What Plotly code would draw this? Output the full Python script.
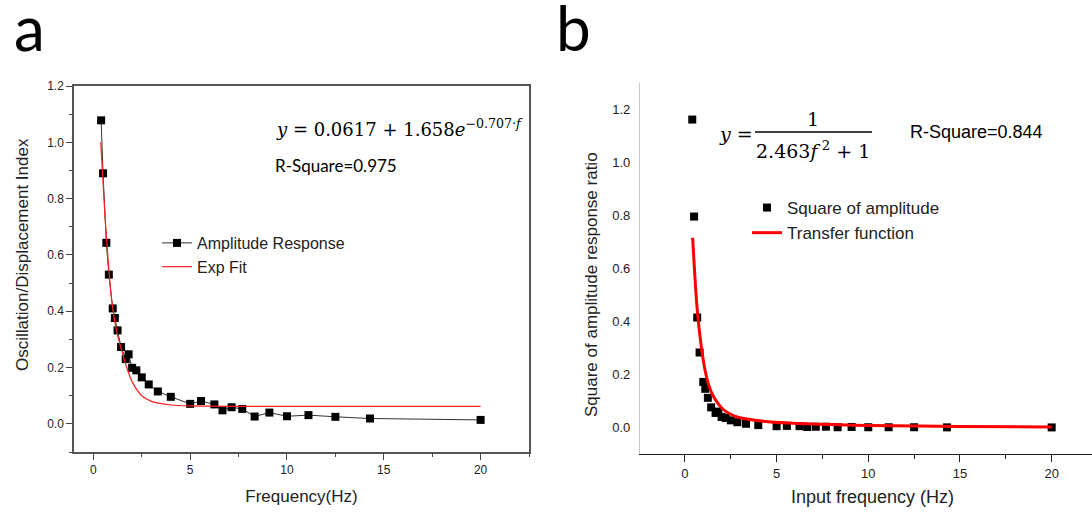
import plotly.graph_objects as go

W, H = 1092, 516

# ---------------- data ----------------
freq_a = [0.4, 0.5, 0.67, 0.8, 1.0, 1.11, 1.25, 1.43, 1.67, 1.82, 2.0, 2.22, 2.5, 2.86,
          3.33, 4.0, 5.0, 5.56, 6.25, 6.67, 7.14, 7.69, 8.33, 9.09, 10.0, 11.11, 12.5, 14.29, 20.0]
amp_a = [1.078, 0.89, 0.643, 0.53, 0.41, 0.376, 0.332, 0.273, 0.23, 0.247, 0.199, 0.19, 0.165, 0.14,
         0.115, 0.096, 0.071, 0.081, 0.069, 0.048, 0.059, 0.053, 0.026, 0.040, 0.027, 0.031, 0.025, 0.019, 0.014]

fit_x_a = [0.38, 0.5, 0.6, 0.7, 0.8, 0.9, 1.0, 1.2, 1.4, 1.7, 2.0, 2.5, 3.0, 3.5, 4.0, 5.0, 6.0, 8.0, 10.0, 15.0, 20.0]
fit_y_a = [1.00, 0.86, 0.74, 0.64, 0.55, 0.47, 0.41, 0.33, 0.275, 0.205, 0.15, 0.10, 0.08, 0.072, 0.067,
           0.064, 0.063, 0.062, 0.062, 0.062, 0.062]

freq_b = freq_a
sq_b = [1.162, 0.796, 0.415, 0.283, 0.172, 0.146, 0.112, 0.076, 0.055, 0.060, 0.040, 0.036, 0.027, 0.020,
        0.014, 0.009, 0.005, 0.006, 0.005, 0.002, 0.003, 0.003, 0.001, 0.002, 0.001, 0.001, 0.001, 0.0005, 0.0003]

fit_x_b = [0.42, 0.5, 0.64, 0.82, 1.09, 1.3, 1.55, 2.09, 2.5, 3.0, 4.27, 5.7, 8.0, 10.0, 15.0, 20.0]
fit_y_b = [0.716, 0.62, 0.47, 0.345, 0.219, 0.16, 0.118, 0.068, 0.05, 0.037, 0.024, 0.017, 0.011, 0.008, 0.004, 0.002]

x_ticks = [0, 5, 10, 15, 20]
y_ticks = [0.0, 0.2, 0.4, 0.6, 0.8, 1.0, 1.2]


def px(x):
    return x / W


def py(y):
    return 1 - y / H


SANS = "Liberation Sans, Arial, sans-serif"
SERIF = "DejaVu Serif, Liberation Serif, serif"
CAL = "Lato, Open Sans, sans-serif"

fig = go.Figure()

# panel a
fig.add_trace(go.Scatter(x=freq_a, y=amp_a, mode="lines+markers", name="Amplitude Response",
                         line=dict(color="#333333", width=1),
                         marker=dict(symbol="square", size=8, color="black"),
                         xaxis="x", yaxis="y", legend="legend"))
fig.add_trace(go.Scatter(x=fit_x_a, y=fit_y_a, mode="lines", name="Exp Fit",
                         line=dict(color="#ff2020", width=1.2, shape="spline", smoothing=0.8),
                         xaxis="x", yaxis="y", legend="legend"))

# panel b
fig.add_trace(go.Scatter(x=freq_b, y=sq_b, mode="markers", name="Square of amplitude",
                         marker=dict(symbol="square", size=8, color="black"),
                         xaxis="x2", yaxis="y2", legend="legend2"))
fig.add_trace(go.Scatter(x=fit_x_b, y=fit_y_b, mode="lines", name="Transfer function",
                         line=dict(color="#ff0000", width=3, shape="spline", smoothing=0.8),
                         xaxis="x2", yaxis="y2", legend="legend2"))

axis_common = dict(showgrid=False, zeroline=False, ticks="outside", automargin=False,
                   tickfont=dict(family=SANS, size=12, color="#222"))

fig.update_layout(
    width=W, height=H,
    margin=dict(l=0, r=0, t=0, b=0, autoexpand=False),
    paper_bgcolor="white", plot_bgcolor="white",
    xaxis=dict(domain=[px(74), px(529)], range=[-1.0, 22.5], anchor="y",
               tickvals=x_ticks, ticklen=6, tickcolor="#444",
               minor=dict(dtick=2.5, tick0=0, ticklen=3, tickcolor="#444", ticks="outside"),
               showline=True, linecolor="#555", linewidth=1.5, mirror=True,
               title=dict(text="Frequency(Hz)", font=dict(family=SANS, size=17, color="#222"), standoff=14),
               **axis_common),
    yaxis=dict(domain=[py(452), py(86)], range=[-0.1, 1.2], anchor="x",
               tickvals=y_ticks, tickformat=".1f", ticklen=6, tickcolor="#444",
               minor=dict(dtick=0.1, tick0=0, ticklen=3, tickcolor="#444", ticks="outside"),
               showline=True, linecolor="#555", linewidth=1.5, mirror=True,
               **axis_common),
    xaxis2=dict(domain=[px(640), 1.0], range=[-2.45, 22.2], anchor="y2",
                tickvals=x_ticks, ticklen=7, tickcolor="#222",
                minor=dict(dtick=2.5, tick0=0, ticklen=4, tickcolor="#222", ticks="outside"),
                showline=True, linecolor="#222", linewidth=1.2,
                showgrid=False, zeroline=False, ticks="outside", automargin=False,
                tickfont=dict(family=SANS, size=13, color="#222")),
    yaxis2=dict(domain=[py(454), py(83)], range=[-0.1, 1.3], anchor="x2",
                tickvals=y_ticks, tickformat=".1f",
                showline=True, linecolor="#c8c8c8", linewidth=1.2,
                showgrid=False, zeroline=False, ticks="", automargin=False,
                ticklabelstandoff=6,
                tickfont=dict(family=SANS, size=13, color="#222")),
    legend=dict(x=px(157), y=py(226), xanchor="left", yanchor="top",
                bgcolor="rgba(0,0,0,0)", font=dict(family=SANS, size=16, color="#222"),
                tracegroupgap=0),
    legend2=dict(x=px(747), y=py(190), xanchor="left", yanchor="top",
                 bgcolor="rgba(0,0,0,0)", font=dict(family=SANS, size=17, color="#222"),
                 tracegroupgap=0),
)

annotations = [
    dict(text="a", x=px(29), y=py(-12), yanchor="top", font=dict(family=CAL, size=62, color="black")),
    dict(text="b", x=px(573), y=py(-12), yanchor="top", font=dict(family=CAL, size=62, color="black")),
    dict(text="<i>y</i> = 0.0617 + 1.658<i>e</i><sup>−0.707·<i>f</i></sup>", x=px(274), y=py(128),
         xanchor="left", font=dict(family=SERIF, size=18, color="black")),
    dict(text="R-Square=0.975", x=px(273), y=py(165), xanchor="left",
         font=dict(family=CAL, size=17, color="black")),
    dict(text="<i>y</i> =", x=px(736), y=py(134), font=dict(family=SERIF, size=19, color="black")),
    dict(text="1", x=px(813), y=py(119), font=dict(family=SERIF, size=19, color="black")),
    dict(text="2.463<i>f</i><sup> 2</sup> + 1", x=px(813), y=py(150), font=dict(family=SERIF, size=19, color="black")),
    dict(text="R-Square=0.844", x=px(908), y=py(132), xanchor="left",
         font=dict(family=SANS, size=18, color="black")),
    dict(text="Oscillation/Displacement Index", x=px(22), y=py(255), textangle=-90,
         font=dict(family=SANS, size=17, color="#222")),
    dict(text="Square of amplitude response ratio", x=px(591), y=py(285), textangle=-90,
         font=dict(family=SANS, size=17, color="#222")),
    dict(text="Input frequency (Hz)", x=px(872), y=py(497),
         font=dict(family=SANS, size=18, color="#222")),
]
for a in annotations:
    a.update(xref="paper", yref="paper", showarrow=False)
    a.setdefault("xanchor", "center")
    a.setdefault("yanchor", "middle")
fig.update_layout(annotations=annotations)

fig.add_shape(type="line", xref="paper", yref="paper", x0=px(755), x1=px(872), y0=py(132), y1=py(132),
              line=dict(color="black", width=1.3))

fig.write_html("out.html", config={"displayModeBar": False},
               post_script="document.body.style.margin='0';document.body.style.overflow='hidden';")
